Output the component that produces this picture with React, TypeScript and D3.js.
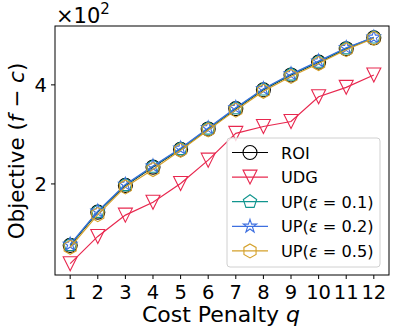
import React from "react";
import * as d3 from "d3";

const qValues = [1, 2, 3, 4, 5, 6, 7, 8, 9, 10, 11, 12];
const roi = [0.76, 1.43, 1.97, 2.34, 2.70, 3.11, 3.52, 3.90, 4.20, 4.46, 4.73, 4.95];
const udg = [0.39, 0.94, 1.37, 1.63, 2.01, 2.48, 3.02, 3.16, 3.26, 3.76, 3.95, 4.20];
const up01 = [0.77, 1.44, 1.98, 2.35, 2.71, 3.12, 3.53, 3.91, 4.21, 4.47, 4.74, 4.96];
const up02 = [0.78, 1.45, 1.99, 2.36, 2.72, 3.13, 3.54, 3.92, 4.22, 4.48, 4.75, 4.96];
const up05 = [0.72, 1.38, 1.94, 2.29, 2.68, 3.09, 3.49, 3.87, 4.17, 4.43, 4.71, 4.94];
const yTicks = [2, 4];

type Series = { name: string; eps?: string; values: number[]; color: string; marker: string };

const seriesList: Series[] = [
  { name: "ROI", values: roi, color: "#000000", marker: "circle" },
  { name: "UDG", values: udg, color: "#e8284f", marker: "tridown" },
  { name: "UP", eps: "0.1", values: up01, color: "#11958e", marker: "pentagon" },
  { name: "UP", eps: "0.2", values: up02, color: "#3d6fe0", marker: "star" },
  { name: "UP", eps: "0.5", values: up05, color: "#d4a02a", marker: "hexagon" },
];

function markerPath(kind: string, r: number): string {
  const poly = (pts: [number, number][]) =>
    "M" + pts.map((p) => `${p[0].toFixed(2)},${p[1].toFixed(2)}`).join("L") + "Z";
  if (kind === "circle") {
    return `M${r},0A${r},${r} 0 1,1 ${-r},0A${r},${r} 0 1,1 ${r},0Z`;
  }
  if (kind === "tridown") {
    return poly([[0, r], [-r, -r], [r, -r]]);
  }
  if (kind === "pentagon") {
    const pts: [number, number][] = [];
    for (let i = 0; i < 5; i++) {
      const a = -Math.PI / 2 + (i * 2 * Math.PI) / 5;
      pts.push([r * Math.cos(a), r * Math.sin(a)]);
    }
    return poly(pts);
  }
  if (kind === "star") {
    const pts: [number, number][] = [];
    for (let i = 0; i < 10; i++) {
      const a = -Math.PI / 2 + (i * Math.PI) / 5;
      const rr = i % 2 === 0 ? r : r * 0.381966;
      pts.push([rr * Math.cos(a), rr * Math.sin(a)]);
    }
    return poly(pts);
  }
  const pts: [number, number][] = [];
  for (let i = 0; i < 6; i++) {
    const a = -Math.PI / 2 + (i * Math.PI) / 3;
    pts.push([r * Math.cos(a), r * Math.sin(a)]);
  }
  return poly(pts);
}

export default function App() {
  const W = 396, H = 335;
  const left = 55, right = 389, top = 26, bottom = 275;
  const x = d3.scaleLinear().domain([0.45, 12.55]).range([left, right]);
  const all = seriesList.flatMap((s) => s.values);
  const mn = d3.min(all)!, mx = d3.max(all)!;
  const pad = (mx - mn) * 0.05;
  const y = d3.scaleLinear().domain([mn - pad, mx + pad]).range([bottom, top]);
  const line = d3.line<number>().x((_, i) => x(qValues[i])).y((v) => y(v));
  const font = "DejaVu Sans, sans-serif";
  const r = 7;

  const legX = 227, legY = 138, legW = 153, legH = 129;
  const rowY = (i: number) => 152.5 + i * 24.6;

  return (
    <svg width={W} height={H} style={{ position: "absolute", left: 0, top: 0 }} fontFamily={font}>
      <rect x={0} y={0} width={W} height={H} fill="#fff" />
      {seriesList.map((s, si) => (
        <g key={si}>
          <path d={line(s.values) || ""} fill="none" stroke={s.color} strokeWidth={1.2} />
          {s.values.map((v, i) => (
            <path
              key={i}
              d={markerPath(s.marker, r)}
              transform={`translate(${x(qValues[i])},${y(v)})`}
              fill="none"
              stroke={s.color}
              strokeWidth={1.1}
            />
          ))}
        </g>
      ))}
      <rect x={left} y={top} width={right - left} height={bottom - top} fill="none" stroke="#000" strokeWidth={1} />
      {qValues.map((q) => (
        <g key={q}>
          <line x1={x(q)} x2={x(q)} y1={bottom} y2={bottom + 4} stroke="#000" />
          <text x={x(q)} y={298.5} fontSize={19.5} textAnchor="middle">{q}</text>
        </g>
      ))}
      {yTicks.map((t) => (
        <g key={t}>
          <line x1={left - 4} x2={left} y1={y(t)} y2={y(t)} stroke="#000" />
          <text x={left - 8} y={y(t) + 7} fontSize={19.5} textAnchor="end">{t}</text>
        </g>
      ))}
      <text x={56} y={23} fontSize={21}>
        ×10<tspan dy={-9} fontSize={15}>2</tspan>
      </text>
      <text x={221} y={322} fontSize={22} textAnchor="middle">
        Cost Penalty <tspan fontStyle="italic">q</tspan>
      </text>
      <text transform={`translate(23.5,151) rotate(-90)`} fontSize={21.5} textAnchor="middle">
        Objective (<tspan fontStyle="italic">f</tspan> − <tspan fontStyle="italic">c</tspan>)
      </text>
      <rect x={legX} y={legY} width={legW} height={legH} rx={3} fill="#fff" fillOpacity={0.8} stroke="#d0d0d0" strokeWidth={1} />
      {seriesList.map((s, i) => (
        <g key={i}>
          <line x1={232} x2={268} y1={rowY(i)} y2={rowY(i)} stroke={s.color} strokeWidth={1.2} />
          <path d={markerPath(s.marker, r)} transform={`translate(250,${rowY(i)})`} fill="none" stroke={s.color} strokeWidth={1.1} />
          <text x={281} y={rowY(i) + 6} fontSize={16.2}>
            {s.eps ? (
              <>
                UP(<tspan fontStyle="italic">ε</tspan> = {s.eps})
              </>
            ) : (
              s.name
            )}
          </text>
        </g>
      ))}
    </svg>
  );
}
